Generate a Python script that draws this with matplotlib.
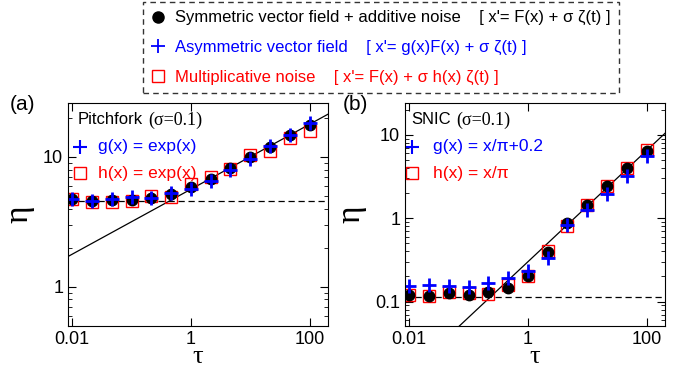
import numpy as np
import matplotlib.pyplot as plt
from matplotlib.lines import Line2D

plt.rcParams['font.family'] = ['Liberation Sans', 'DejaVu Sans']

# tau values (1/3 decade steps)
tau = [0.01, 0.0215, 0.0464, 0.1, 0.215, 0.464, 1, 2.15, 4.64, 10, 21.5, 46.4, 100]

# panel (a) Pitchfork
eta_a_sym = [4.78, 4.59, 4.70, 4.64, 4.86, 5.16, 5.87, 6.81, 8.28, 10.0, 11.9, 14.7, 17.5]
eta_a_asym = [4.78, 4.59, 4.78, 4.95, 4.86, 5.30, 5.65, 6.50, 7.90, 9.70, 12.1, 14.7, 18.2]
eta_a_mult = [4.78, 4.50, 4.50, 4.55, 5.00, 4.95, 6.20, 7.00, 8.10, 10.4, 11.2, 14.0, 15.8]
dash_a = 4.56
fit_a = (5.64, 0.25)   # eta = c * tau^p

# panel (b) SNIC
eta_b_sym = [0.120, 0.118, 0.126, 0.120, 0.132, 0.145, 0.203, 0.398, 0.87, 1.45, 2.40, 3.98, 6.43]
eta_b_asym = [0.154, 0.158, 0.154, 0.151, 0.166, 0.190, 0.235, 0.330, 0.83, 1.24, 1.96, 3.22, 5.50]
eta_b_mult = [0.120, 0.118, 0.132, 0.126, 0.122, 0.158, 0.200, 0.405, 0.81, 1.42, 2.40, 4.00, 6.60]
dash_b = 0.115
fit_b = (0.30, 2.0 / 3.0)

fig = plt.figure(figsize=(6.82, 3.75), dpi=100)
ax_a = fig.add_axes([68 / 682, 1 - 326 / 375, 260 / 682, 223 / 375])
ax_b = fig.add_axes([405 / 682, 1 - 326 / 375, 260 / 682, 223 / 375])

xlim = (10 ** -2.07, 10 ** 2.31)
serif = ['Liberation Serif', 'DejaVu Serif']


def draw_panel(ax, sym, asym, mult, dash, fit, ylim):
    ax.set_xscale('log')
    ax.set_yscale('log')
    ax.set_xlim(*xlim)
    ax.set_ylim(*ylim)
    t = np.logspace(-3, 3, 200)
    ax.plot(t, fit[0] * t ** fit[1], color='black', lw=0.9)
    ax.axhline(dash, color='black', lw=0.9, ls=(0, (5, 3)))
    ax.plot(tau, mult, 's', ms=8, mfc='none', mec='red', mew=1.0, ls='none')
    ax.plot(tau, sym, 'o', ms=7.5, color='black', ls='none')
    ax.plot(tau, asym, '+', ms=10, color='blue', mew=2.0, ls='none')
    ax.tick_params(which='both', direction='in', top=True, right=True, labelsize=13)
    ax.tick_params(which='major', length=6)
    ax.tick_params(which='minor', length=3)
    ax.set_xticks([0.01, 1, 100])
    ax.set_xticklabels(['0.01', '1', '100'])
    ax.set_xlabel('τ', fontsize=19, family=serif, labelpad=-1)
    ax.set_ylabel('η', fontsize=24, family=serif, labelpad=6)


draw_panel(ax_a, eta_a_sym, eta_a_asym, eta_a_mult, dash_a, fit_a, (0.5, 26))
ax_a.set_yticks([1, 10])
ax_a.set_yticklabels(['1', '10'])

draw_panel(ax_b, eta_b_sym, eta_b_asym, eta_b_mult, dash_b, fit_b, (0.051, 24))
ax_b.set_yticks([0.1, 1, 10])
ax_b.set_yticklabels(['0.1', '1', '10'])

# panel labels and inner annotations
fig.text(10 / 682, 1 - 104 / 375, '(a)', fontsize=15, va='center')
fig.text(343 / 682, 1 - 104 / 375, '(b)', fontsize=15, va='center')

panels = [
    (ax_a, 'Pitchfork', 0.036, 0.31, 'g(x) = exp(x)', 'h(x) = exp(x)', 0.046, 0.115),
    (ax_b, 'SNIC', 0.023, 0.198, 'g(x) = x/π+0.2', 'h(x) = x/π', 0.027, 0.108),
]
for ax, name, nx, sx, gtxt, htxt, mx, tx in panels:
    ax.text(nx, 0.924, name, transform=ax.transAxes, fontsize=12, va='center')
    ax.text(sx, 0.924, '(σ=0.1)', transform=ax.transAxes,
            fontsize=13, va='center', family=serif)
    ax.plot([mx], [0.803], '+', ms=10, mew=1.5, color='blue', transform=ax.transAxes)
    ax.text(tx, 0.803, gtxt, transform=ax.transAxes, fontsize=12.5, va='center', color='blue')
    ax.plot([mx], [0.686], 's', ms=9, mfc='none', mec='red', mew=1.0, transform=ax.transAxes)
    ax.text(tx, 0.686, htxt, transform=ax.transAxes, fontsize=12.5, va='center', color='red')

# top legend
handles = [
    Line2D([], [], marker='o', ms=8, color='black', ls='none'),
    Line2D([], [], marker='+', ms=10, mew=1.3, color='blue', ls='none'),
    Line2D([], [], marker='s', ms=9, mfc='none', mec='red', mew=1.0, ls='none'),
]
labels = [
    "Symmetric vector field + additive noise    [ x'= F(x) + σ ζ(t) ]",
    "Asymmetric vector field    [ x'= g(x)F(x) + σ ζ(t) ]",
    "Multiplicative noise    [ x'= F(x) + σ h(x) ζ(t) ]",
]
leg = fig.legend(handles, labels, loc='upper left',
                 bbox_to_anchor=(143 / 682, 1 - 2 / 375), borderaxespad=0,
                 labelcolor=['black', 'blue', 'red'], fontsize=12,
                 handlelength=0.8, handletextpad=0.6, labelspacing=0.88,
                 borderpad=0.5, fancybox=False, edgecolor='black')
leg.get_frame().set_linestyle((0, (4, 3)))
leg.get_frame().set_linewidth(1.0)

fig.savefig('out.png', dpi=100)
